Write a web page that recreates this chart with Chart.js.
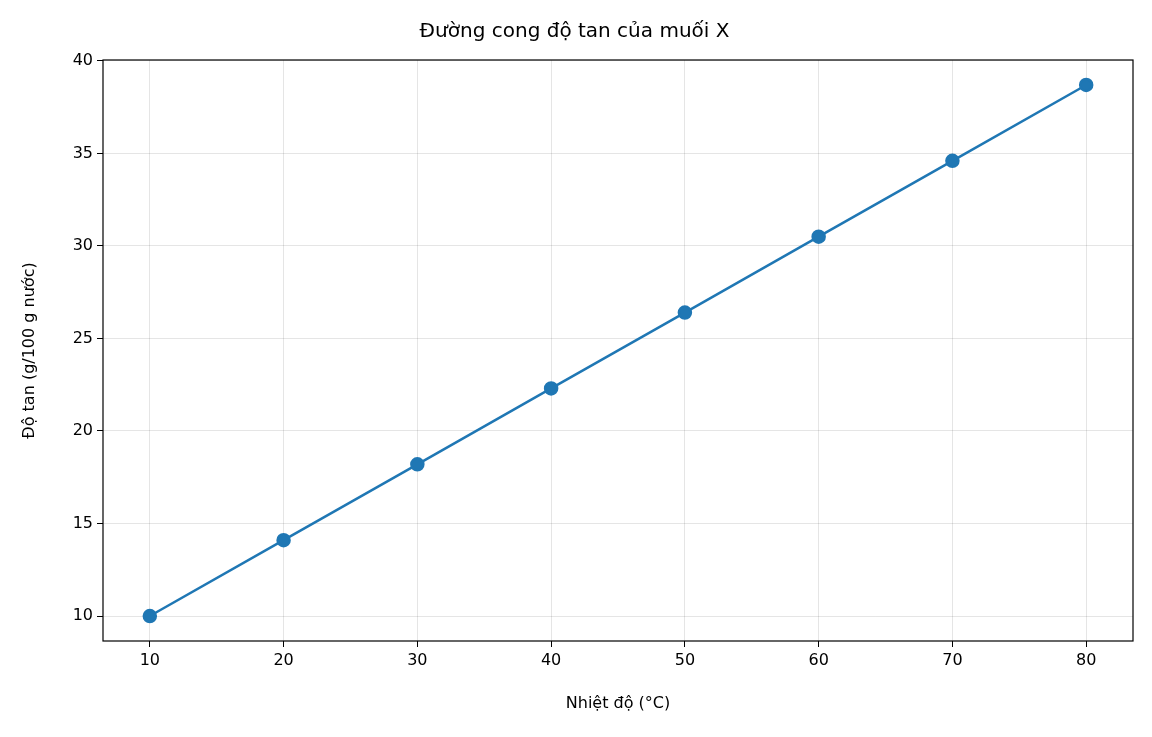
<!DOCTYPE html>
<html><head><meta charset="utf-8">
<script src="https://cdn.jsdelivr.net/npm/chart.js@4"></script>
<style>html,body{margin:0;padding:0;background:#fff}#w{width:1152px;height:737px}</style>
</head><body><div id="w"><canvas id="c"></canvas></div>
<script>
const temperatures = [10, 20, 30, 40, 50, 60, 70, 80];
const solubility = [10.0, 14.1, 18.2, 22.3, 26.4, 30.5, 34.6, 38.7];
const xTicks = [10, 20, 30, 40, 50, 60, 70, 80];
const yTicks = [10, 15, 20, 25, 30, 35, 40];
const FONT = 'DejaVu Sans';
const frame = {id:'frame', afterDraw(ch){const a=ch.chartArea,x=ch.ctx;x.save();x.strokeStyle='#000';x.lineWidth=1.2;x.strokeRect(a.left,a.top,a.right-a.left,a.bottom-a.top);x.restore();}};
new Chart(document.getElementById('c'), {
  type:'line',
  data:{datasets:[{data:temperatures.map((t,i)=>({x:t,y:solubility[i]})),borderColor:'#1f77b4',backgroundColor:'#1f77b4',borderWidth:2.5,pointRadius:6,pointHoverRadius:6,tension:0}]},
  options:{responsive:true,maintainAspectRatio:false,animation:false,
    layout:{padding:{left:16,right:19,top:0,bottom:20}},
    plugins:{legend:{display:false},tooltip:{enabled:false},
      title:{display:true,text:'Đường cong độ tan của muối X',color:'#000',font:{family:FONT,size:20,weight:'normal'},padding:{top:20,bottom:16}}},
    scales:{
      x:{type:'linear',min:6.5,max:83.5,afterBuildTicks(s){s.ticks=xTicks.map(v=>({value:v}));},
        afterFit(s){s.height=76;},
        grid:{color:'rgba(0,0,0,0.1)',tickColor:'#000',tickLength:6,drawTicks:true},border:{display:false},
        ticks:{color:'#000',font:{family:FONT,size:16},padding:4},
        title:{display:true,text:'Nhiệt độ (°C)',color:'#000',font:{family:FONT,size:16},padding:{top:4}}},
      y:{min:8.65,max:40.05,afterBuildTicks(s){s.ticks=yTicks.map(v=>({value:v}));},
        afterFit(s){s.width=87;},
        grid:{color:'rgba(0,0,0,0.1)',tickColor:'#000',tickLength:6,drawTicks:true},border:{display:false},
        ticks:{color:'#000',font:{family:FONT,size:16},padding:4},
        title:{display:true,text:'Độ tan (g/100 g nước)',color:'#000',font:{family:FONT,size:16},padding:{bottom:6}}}
    }},
  plugins:[frame]
});
</script></body></html>
